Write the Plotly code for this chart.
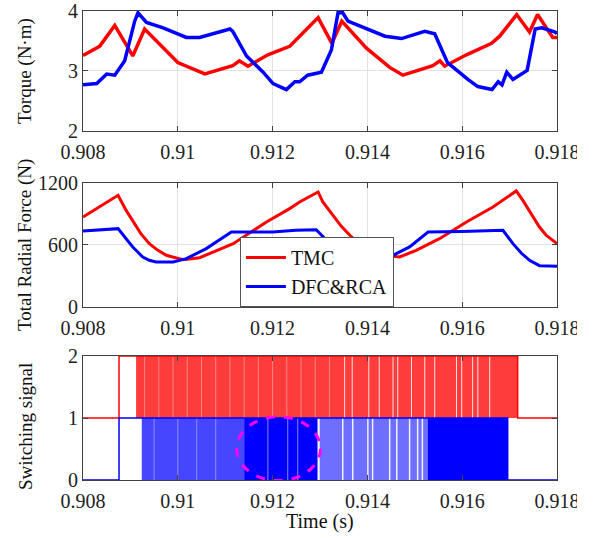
import plotly.graph_objects as go
from plotly.subplots import make_subplots

# ---------------- data ----------------
# Torque (N·m)
t_torque_tmc = [0.9080, 0.90835, 0.90867, 0.90905, 0.9093, 0.9100, 0.91057, 0.91116, 0.9113,
                0.91148, 0.9119, 0.91236, 0.91257, 0.91296, 0.91325, 0.91346, 0.91398, 0.91447,
                0.91475, 0.91538, 0.91553, 0.91563, 0.91609, 0.91662, 0.91679, 0.91715, 0.91742,
                0.91759, 0.91791, 0.9180]
torque_tmc = [3.26, 3.41, 3.76, 3.25, 3.70, 3.14, 2.95, 3.09, 3.17,
              3.08, 3.27, 3.41, 3.58, 3.89, 3.46, 3.83, 3.38, 3.06,
              2.93, 3.09, 3.17, 3.08, 3.27, 3.46, 3.58, 3.94, 3.65,
              3.94, 3.56, 3.56]

t_torque_dfc = [0.9080, 0.90829, 0.9085, 0.90867, 0.90888, 0.90909, 0.90916, 0.90934, 0.90969,
                0.91018, 0.91046, 0.9111, 0.91116, 0.91145, 0.9118, 0.91201, 0.91229, 0.91247,
                0.91257, 0.91274, 0.91303, 0.91324, 0.91338, 0.91348, 0.91359, 0.91395, 0.91437,
                0.91472, 0.91521, 0.91542, 0.91569, 0.91612, 0.91633, 0.91663, 0.91676, 0.91684,
                0.91694, 0.91707, 0.91737, 0.91754, 0.91768, 0.91796, 0.9180]
torque_dfc = [2.77, 2.79, 2.95, 2.93, 3.17, 3.83, 3.97, 3.81, 3.72,
              3.56, 3.56, 3.70, 3.66, 3.25, 2.98, 2.79, 2.69, 2.82,
              2.82, 2.93, 2.98, 3.35, 3.97, 3.97, 3.83, 3.72, 3.58,
              3.54, 3.66, 3.62, 3.14, 2.86, 2.74, 2.69, 2.82, 2.77,
              2.98, 2.86, 3.01, 3.70, 3.72, 3.65, 3.62]

# Total radial force (N)
t_force_tmc = [0.908, 0.90874, 0.90891, 0.90905, 0.90922, 0.9094, 0.90958, 0.90976, 0.91011,
               0.91046, 0.91117, 0.91187, 0.91236, 0.91257, 0.91296, 0.91306, 0.91327, 0.91345,
               0.91363, 0.91381, 0.91398, 0.91433, 0.91468, 0.91503, 0.91552, 0.91609, 0.91665,
               0.91714, 0.91728, 0.91749, 0.91763, 0.91777, 0.918]
force_tmc = [871, 1081, 935, 839, 710, 613, 548, 500, 458,
             477, 613, 823, 952, 1016, 1113, 1016, 887, 781,
             694, 619, 565, 500, 484, 548, 661, 823, 968,
             1123, 1032, 871, 774, 694, 613]

t_force_dfc = [0.908, 0.90874, 0.90891, 0.90905, 0.90926, 0.9094, 0.90954, 0.9099, 0.91018,
               0.9106, 0.91113, 0.912, 0.91249, 0.91292, 0.91314, 0.91335, 0.91365, 0.9140,
               0.91435, 0.91461, 0.91489, 0.91528, 0.9160, 0.91686, 0.91707, 0.91725, 0.91742,
               0.91763, 0.918]
force_dfc = [735, 758, 661, 581, 484, 452, 435, 435, 468,
             565, 726, 726, 742, 748, 645, 532, 455, 435,
             440, 516, 581, 726, 730, 742, 613, 520, 452,
             400, 394]

# Switching signal: steady levels (step outline)
t_sw_tmc = [0.908, 0.90876, 0.90876, 0.91717, 0.91717, 0.918]
sw_tmc = [1, 1, 2, 2, 1, 1]
t_sw_dfc = [0.908, 0.90876, 0.90876, 0.91696, 0.91696, 0.918]
sw_dfc = [0, 0, 1, 1, 0, 0]

# Switching bursts (start, end) - dense switching between levels
tmc_burst_start = [0.90912]
tmc_burst_end = [0.91717]
dfc_burst_start = [0.90924, 0.9114, 0.91299, 0.91527]
dfc_burst_end = [0.9114, 0.91295, 0.91527, 0.91696]
dfc_burst_density = ["medium", "high", "low", "high"]

# visible gaps in the switching bursts
tmc_gaps = [0.91352, 0.91403, 0.91454, 0.91464, 0.91493, 0.91521, 0.91542, 0.91588,
            0.91599, 0.91622, 0.91633, 0.91658, 0.91368, 0.91425]
tmc_light_lines = [0.9093, 0.9096, 0.9099, 0.9102, 0.9105, 0.9108, 0.9111, 0.9114,
                   0.9117, 0.9120, 0.9123, 0.9126, 0.9129, 0.9132]
dfc_gaps = [0.91297, 0.91348, 0.91369, 0.91401, 0.91411, 0.91447, 0.91462, 0.91489,
            0.91506, 0.91516]
dfc_light_lines = [0.91190, 0.91232, 0.91253, 0.9095, 0.9100, 0.9104, 0.9108]

x_ticks = [0.908, 0.910, 0.912, 0.914, 0.916, 0.918]
x_ticktext = ["0.908", "0.91", "0.912", "0.914", "0.916", "0.918"]

# ---------------- figure ----------------
RED = "#ff0000"
BLUE = "#0000ff"
FONT = "Times New Roman, Liberation Serif, serif"
TOP_DOMAIN = [0.7363, 0.9895]

fig = make_subplots(rows=3, cols=1)

fig.add_trace(go.Scatter(x=t_torque_tmc, y=torque_tmc, mode="lines",
                         line=dict(color=RED, width=3.5), showlegend=False), row=1, col=1)
fig.add_trace(go.Scatter(x=t_torque_dfc, y=torque_dfc, mode="lines",
                         line=dict(color=BLUE, width=3.5), showlegend=False), row=1, col=1)

fig.add_trace(go.Scatter(x=t_force_tmc, y=force_tmc, mode="lines", name="TMC",
                         line=dict(color=RED, width=3)), row=2, col=1)
fig.add_trace(go.Scatter(x=t_force_dfc, y=force_dfc, mode="lines", name="DFC&RCA",
                         line=dict(color=BLUE, width=3)), row=2, col=1)


def rect_trace(x0, x1, y0, y1, color):
    return go.Scatter(x=[x0, x1, x1, x0, x0], y=[y0, y0, y1, y1, y0], mode="lines",
                      fill="toself", fillcolor=color, line=dict(width=0),
                      showlegend=False, hoverinfo="skip")


def vlines(ts, y0, y1, color, width):
    xs, ys = [], []
    for t in ts:
        xs += [t, t, None]
        ys += [y0, y1, None]
    return go.Scatter(x=xs, y=ys, mode="lines", line=dict(color=color, width=width),
                      showlegend=False, hoverinfo="skip")


for a, b in zip(tmc_burst_start, tmc_burst_end):
    fig.add_trace(rect_trace(a, b, 1, 2, "rgb(255,60,60)"), row=3, col=1)
fig.add_trace(vlines(tmc_light_lines, 1.0, 2.0, "rgba(255,140,140,0.9)", 1), row=3, col=1)
fig.add_trace(vlines(tmc_gaps, 1.0, 2.0, "rgba(255,255,255,0.85)", 1), row=3, col=1)

density_color = {"medium": "rgb(70,70,255)", "high": "rgb(0,0,255)", "low": "rgb(110,110,255)"}
for a, b, d in zip(dfc_burst_start, dfc_burst_end, dfc_burst_density):
    fig.add_trace(rect_trace(a, b, 0, 1, density_color[d]), row=3, col=1)
fig.add_trace(vlines(dfc_light_lines, 0.0, 1.0, "rgba(150,150,255,0.9)", 1), row=3, col=1)
fig.add_trace(vlines(dfc_gaps, 0.0, 1.0, "rgba(255,255,255,0.9)", 1.5), row=3, col=1)

fig.add_trace(go.Scatter(x=t_sw_tmc, y=sw_tmc, mode="lines",
                         line=dict(color=RED, width=1.5), showlegend=False), row=3, col=1)
fig.add_trace(go.Scatter(x=t_sw_dfc, y=sw_dfc, mode="lines",
                         line=dict(color=BLUE, width=1.5), showlegend=False), row=3, col=1)

axis_common = dict(showline=True, linecolor="#404040", linewidth=1, mirror="ticks",
                   ticks="inside", ticklen=5, tickcolor="#404040", showgrid=True,
                   gridcolor="#e2e2e2", gridwidth=1, zeroline=False, automargin=False,
                   ticklabeloverflow="allow",
                   tickfont=dict(family=FONT, size=20, color="#222222"))

for i, dom in zip([1, 2, 3], [TOP_DOMAIN, [0.365, 0.6266], [0.0, 0.2616]]):
    xa = "xaxis" if i == 1 else f"xaxis{i}"
    ya = "yaxis" if i == 1 else f"yaxis{i}"
    fig.layout[xa].update(range=[0.908, 0.918], tickvals=x_ticks, ticktext=x_ticktext,
                          domain=[0, 1], ticklabelstandoff=3, **axis_common)
    fig.layout[ya].update(domain=dom, **axis_common)

fig.layout.yaxis.update(range=[2, 4], tickvals=[2, 3, 4])
fig.layout.yaxis2.update(range=[0, 1200], tickvals=[0, 600, 1200])
fig.layout.yaxis3.update(range=[0, 2], tickvals=[0, 1, 2], showgrid=False)

title_font = dict(family=FONT, size=19, color="#111111")
for text, yc, shift in [("Torque (N·m)", (TOP_DOMAIN[0] + TOP_DOMAIN[1]) / 2, 0),
                        ("Total Radial Force (N)", (0.365 + 0.6266) / 2, 0),
                        ("Switching signal", 0.2616 / 2, -8)]:
    fig.add_annotation(text=text, xref="paper", yref="paper", x=-0.1224, y=yc,
                       yshift=shift, textangle=-90, showarrow=False, font=title_font,
                       xanchor="center", yanchor="middle")
fig.add_annotation(text="Time (s)", xref="paper", yref="paper", x=0.5, y=-0.0865,
                   showarrow=False, font=dict(family=FONT, size=20, color="#111111"),
                   xanchor="center", yanchor="middle")

# dashed ellipse highlighting region
fig.add_shape(type="circle", xref="x3", yref="y3", x0=0.91124, x1=0.91301, y0=-0.01, y1=1.02,
              line=dict(color="#ff00ff", width=3, dash="dash"), layer="above")

# right edge crop of original figure
fig.add_shape(type="rect", xref="paper", yref="paper", x0=1.0422, x1=1.2, y0=-0.2, y1=1.1,
              fillcolor="white", line=dict(width=0), layer="above")

fig.update_layout(
    width=602, height=538,
    margin=dict(l=83, r=45, t=6, b=58, autoexpand=False),
    paper_bgcolor="white", plot_bgcolor="white",
    font=dict(family=FONT, color="#111111"),
    legend=dict(x=0.331, y=0.365, xanchor="left", yanchor="bottom",
                bgcolor="white", bordercolor="#555555", borderwidth=1,
                font=dict(family=FONT, size=20, color="#111111"),
                itemwidth=40, tracegroupgap=0),
)

fig.write_html("out.html", config={"displayModeBar": False},
               post_script="document.body.style.margin='0';")
